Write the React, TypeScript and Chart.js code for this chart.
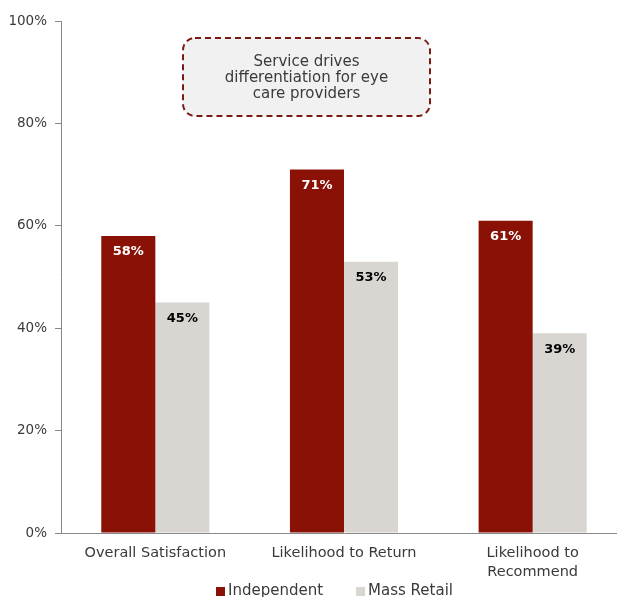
import React, { useEffect, useRef } from "react";
import { Chart, registerables } from "chart.js";

Chart.register(...registerables);

const categories: (string | string[])[] = ["Overall Satisfaction", "Likelihood to Return", ["Likelihood to", "Recommend"]];
const independentValues = [58, 71, 61];
const massRetailValues = [45, 53, 39];
const yTicks = [0, 20, 40, 60, 80, 100];
const seriesNames = ["Independent", "Mass Retail"];
const calloutLines = ["Service drives", "differentiation for eye", "care providers"];

const RED = "#8A1106";
const GRAY = "#D9D6D2";
const TEXT = "#3A3A3A";
const FONT = "'DejaVu Sans', sans-serif";

const valueLabels = {
  id: "valueLabels",
  afterDatasetsDraw(chart: any) {
    const ctx = chart.ctx;
    ctx.save();
    ctx.font = `bold 13px ${FONT}`;
    ctx.textAlign = "center";
    ctx.textBaseline = "middle";
    chart.data.datasets.forEach((ds: any, di: number) => {
      const meta = chart.getDatasetMeta(di);
      meta.data.forEach((bar: any, i: number) => {
        ctx.fillStyle = di === 0 ? "#FFFFFF" : "#000000";
        ctx.fillText(ds.data[i] + "%", bar.x, bar.y + 16);
      });
    });
    ctx.restore();
  },
};

const callout = {
  id: "callout",
  afterDraw(chart: any) {
    const ctx = chart.ctx;
    const x = 183, y = 38, w = 247, h = 78, r = 12;
    ctx.save();
    ctx.beginPath();
    ctx.roundRect(x, y, w, h, r);
    ctx.fillStyle = "#F1F1F1";
    ctx.fill();
    ctx.setLineDash([6, 4]);
    ctx.lineWidth = 2;
    ctx.strokeStyle = "#7A1A12";
    ctx.stroke();
    ctx.setLineDash([]);
    ctx.fillStyle = TEXT;
    ctx.font = `15px ${FONT}`;
    ctx.textAlign = "center";
    ctx.textBaseline = "middle";
    calloutLines.forEach((line, i) => {
      ctx.fillText(line, x + w / 2, 62 + i * 16);
    });
    ctx.restore();
  },
};

const customLegend = {
  id: "customLegend",
  afterDraw(chart: any) {
    const ctx = chart.ctx;
    ctx.save();
    ctx.font = `15px ${FONT}`;
    ctx.textBaseline = "middle";
    ctx.textAlign = "left";
    let x = 216;
    const y = 591;
    chart.data.datasets.forEach((ds: any) => {
      ctx.fillStyle = ds.backgroundColor;
      ctx.fillRect(x, y - 4, 9, 9);
      ctx.fillStyle = TEXT;
      ctx.fillText(ds.label, x + 12, y);
      x += 12 + ctx.measureText(ds.label).width + 33;
    });
    ctx.restore();
  },
};

export default function App() {
  const ref = useRef<HTMLCanvasElement>(null);
  useEffect(() => {
    if (!ref.current) return;
    const chart = new Chart(ref.current, {
      type: "bar",
      data: {
        labels: categories as any,
        datasets: [
          { label: seriesNames[0], data: independentValues, backgroundColor: RED },
          { label: seriesNames[1], data: massRetailValues, backgroundColor: GRAY },
        ],
      },
      options: {
        animation: false,
        responsive: false,
        layout: { padding: { top: 21, right: 0, left: 0, bottom: 0 } },
        plugins: { legend: { display: false }, tooltip: { enabled: false } },
        datasets: { bar: { categoryPercentage: 0.573, barPercentage: 1 } },
        scales: {
          x: {
            offset: true,
            grid: { display: false, drawTicks: false },
            border: { color: "#888888", width: 1 },
            ticks: { color: TEXT, font: { family: FONT, size: 14.5, lineHeight: 1.3 }, padding: 11, maxRotation: 0 },
            afterFit: (s: any) => { s.height = 64; },
          },
          y: {
            min: 0,
            max: 100,
            afterBuildTicks: (s: any) => { s.ticks = yTicks.map((v) => ({ value: v })); },
            grid: { display: true, drawOnChartArea: false, drawTicks: true, tickLength: 6, color: "#888888" },
            border: { color: "#888888", width: 1 },
            ticks: { color: TEXT, font: { family: FONT, size: 13.5 }, padding: 8, callback: (v: any) => v + "%" },
            afterFit: (s: any) => { s.width = 61; },
          },
        },
      },
      plugins: [valueLabels, callout, customLegend],
    });
    return () => chart.destroy();
  }, []);
  return (
    <div style={{ position: "absolute", left: 0, top: 0, width: 617, height: 597, overflow: "hidden", background: "#fff" }}>
      <canvas ref={ref} width={627} height={597} style={{ display: "block" }} />
    </div>
  );
}
